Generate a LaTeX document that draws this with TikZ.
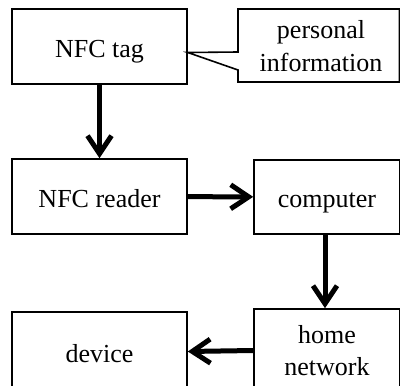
\documentclass[tikz,border=0pt]{standalone}
\usepackage{fontspec}
\setmainfont{Liberation Serif}
\usetikzlibrary{arrows.meta}
\tikzset{
  block/.style={draw, line width=1.6pt, minimum width=175pt, minimum height=75pt,
    inner sep=0pt, align=center, font=\fontsize{26}{32}\selectfont},
  oneline/.style={block, text height=24pt, text depth=3pt},
  flow/.style={line width=5pt, -{Straight Barb[length=18pt, width=24pt]}}
}
\begin{document}
\begin{tikzpicture}[x=1pt, y=-1pt]
  \useasboundingbox (0,0) rectangle (400,386);
  \clip (0,0) rectangle (400,386);
  \node[oneline] (tag) at (99.5,46.5) {NFC tag};
  \node[oneline] (reader) at (99.5,196.5) {NFC reader};
  \node[oneline, minimum width=146pt, minimum height=74pt] (computer) at (327,197) {computer};
  \node[block, minimum width=146pt, minimum height=83pt] (home) at (327,350.5) {home\\network};
  \node[oneline, minimum height=79pt] (device) at (99.5,351.5) {device};
  % callout with the data held on the tag
  \node[align=center, font=\fontsize{26}{33}\selectfont] (info) at (321,46) {personal\\information};
  \coordinate (tip) at ([yshift=-6pt]tag.east);
  \draw[line width=1.6pt] (399.5,9) -- (238,9) -- (238,52) -- (tip) -- (238,70) -- (238,82) -- (399.5,82) -- cycle;
  \draw[flow] (tag) -- (reader);
  \draw[flow] (reader) -- (computer);
  \draw[flow] ([xshift=-2pt]computer.south) -- ([xshift=-2pt]computer.south |- home.north);
  \draw[flow] (home.west) -- (device.east);
\end{tikzpicture}
\end{document}
